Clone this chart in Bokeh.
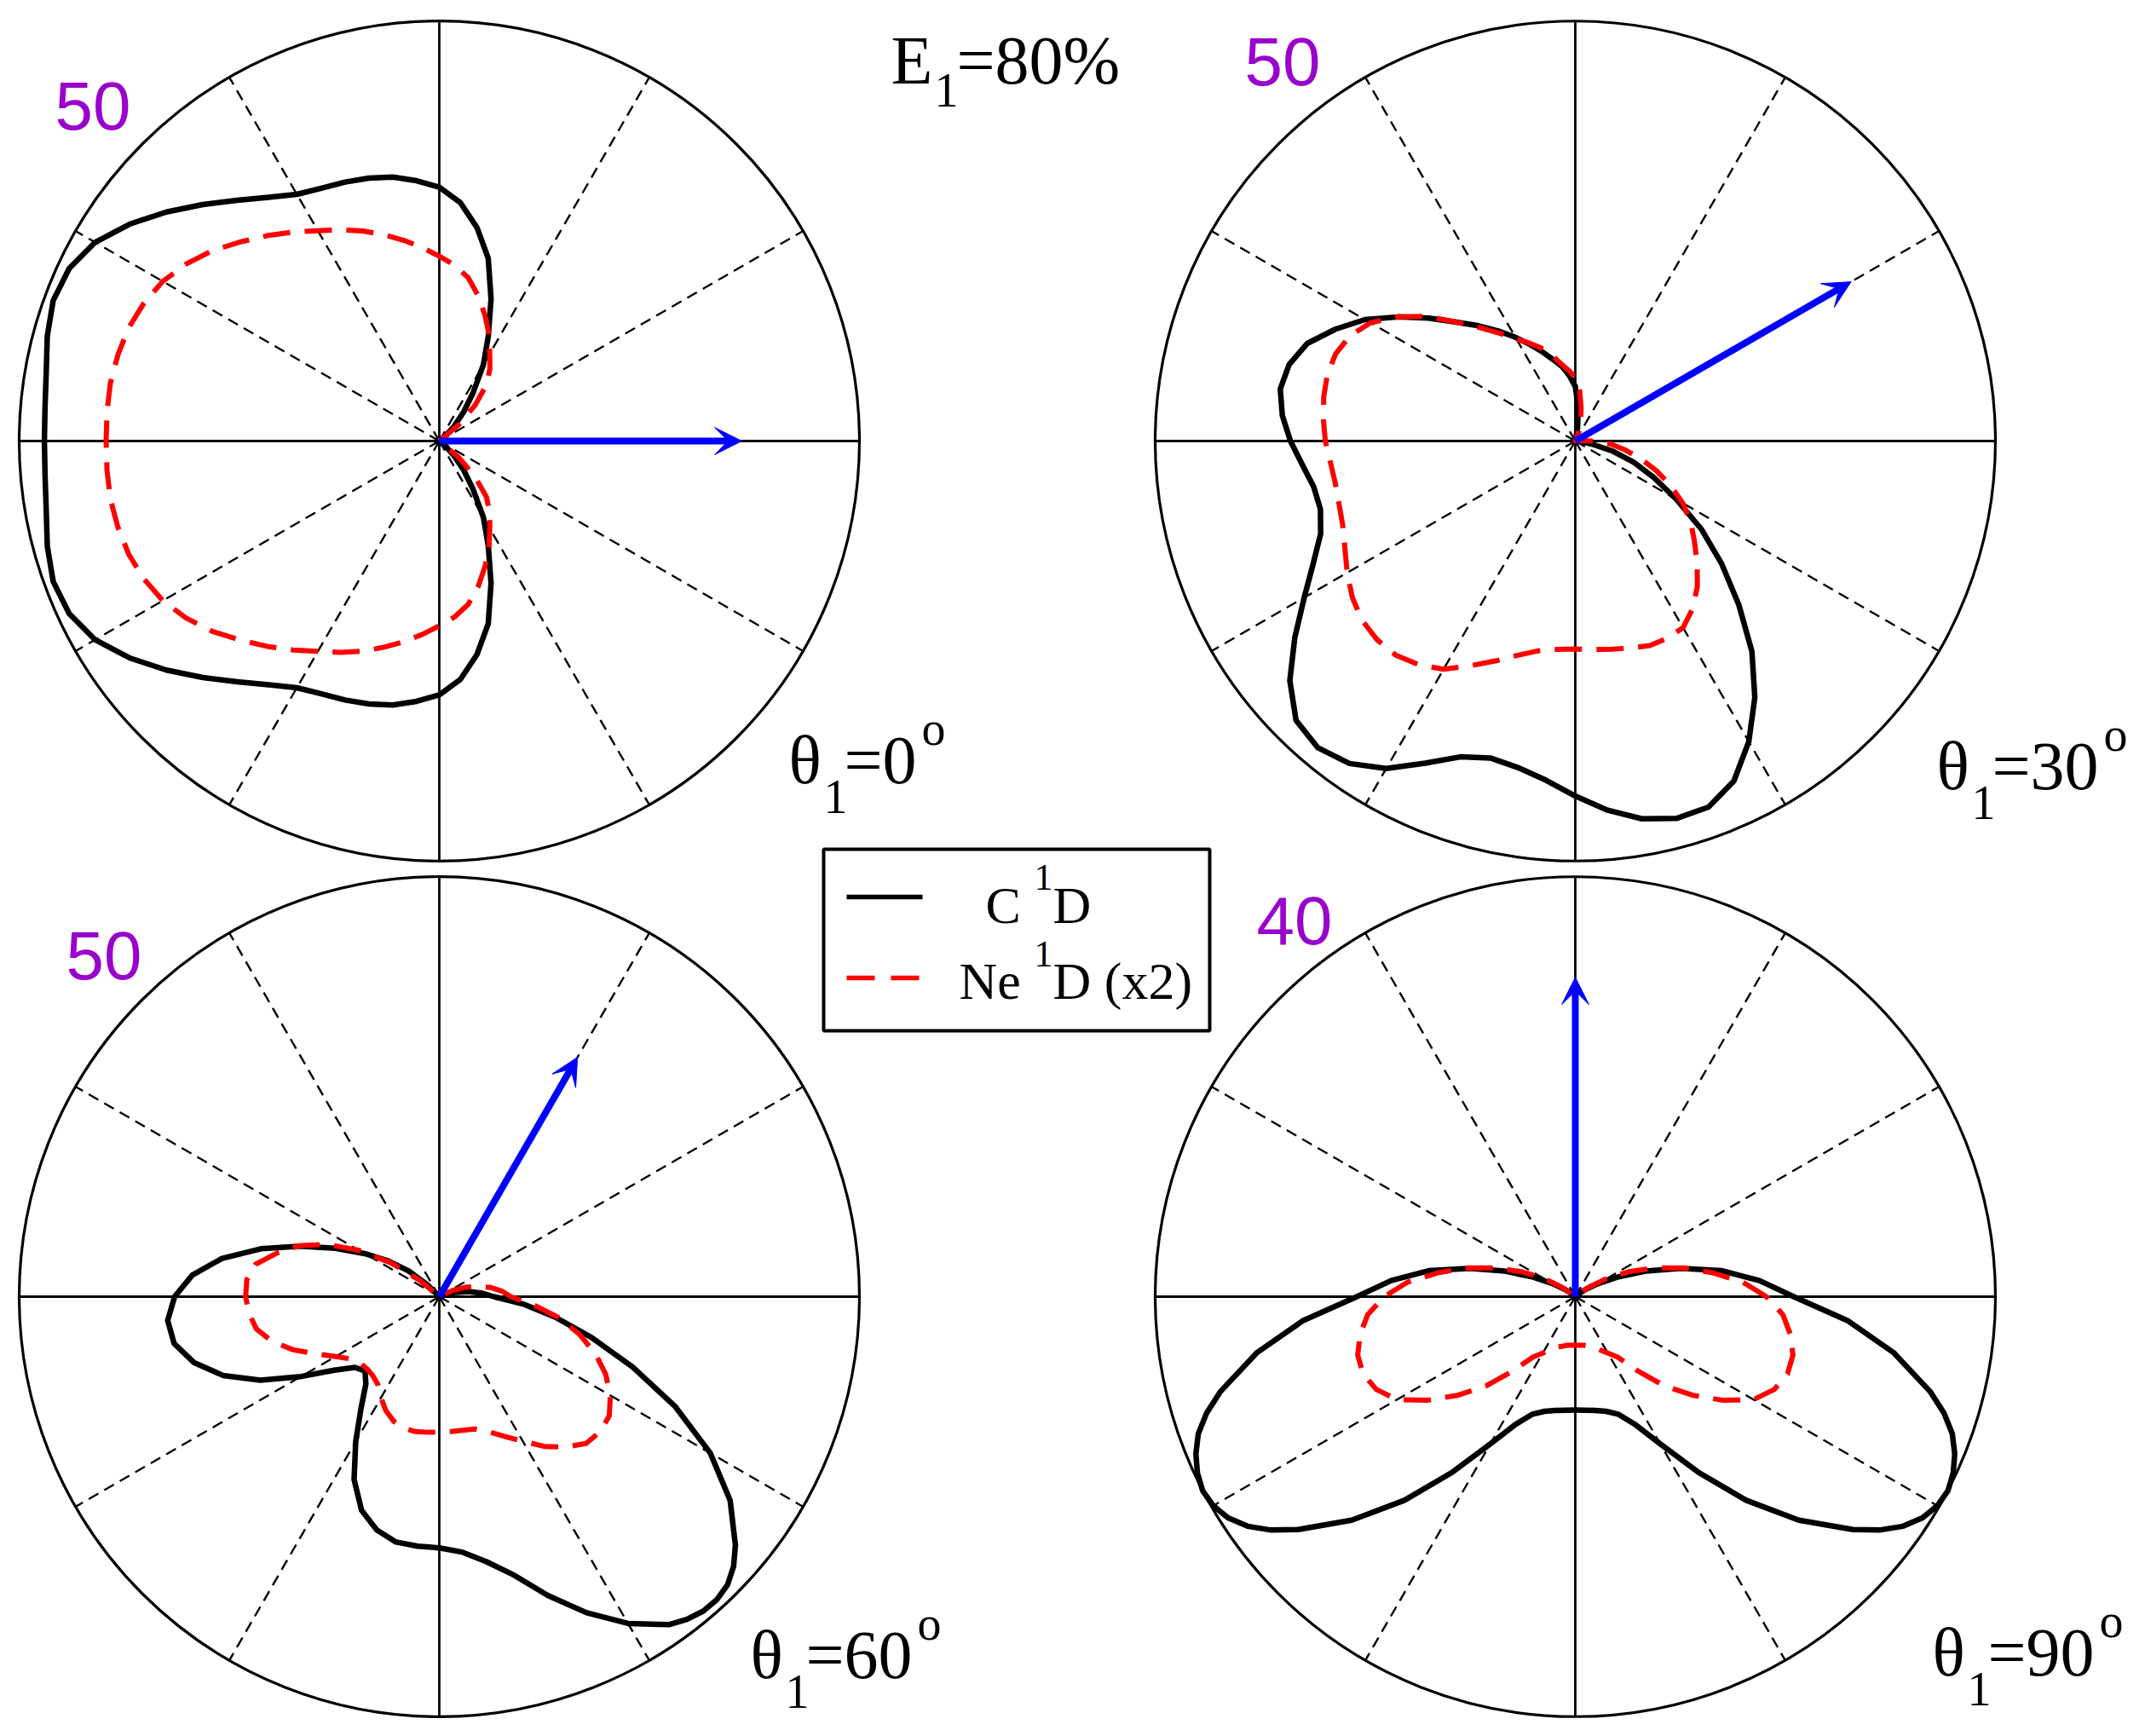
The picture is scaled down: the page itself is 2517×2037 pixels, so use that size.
import math
from bokeh.plotting import figure
from bokeh.models import Range1d, Arrow, VeeHead
from bokeh.core.properties import value
from bokeh.embed import file_html
from bokeh.resources import INLINE

# ---------------- data ----------------
ANGLES = list(range(0, 360, 5))          # polar angle (deg), 0 = right, counter-clockwise

theta1 = [0, 30, 60, 90]                 # direction of first electron (deg)
radial_max = [50, 50, 50, 40]            # value at the outer circle
arrow_len = [36.0, 37.9, 32.9, 30.4]     # length of the blue arrow, same units
panel_labels = ["θ", "θ", "θ", "θ"]
theta_values = ["0", "30", "60", "90"]
scale_labels = ["50", "50", "50", "40"]

# C 1D (black, solid), values every 5 deg
c1d_0 = [0, 0, 0, 0, 0, 0, 0, 0, 1.0, 2.5, 4.5, 7.0, 10.5, 13.8, 18.0, 22.5, 25.8, 28.5,
         30.2, 31.1, 31.9, 32.4, 32.8, 33.2, 33.9, 35.4, 37.4, 39.8, 42.4, 45.0, 47.3, 48.6,
         48.9, 48.3, 47.5, 47.1, 47.0,
         47.1, 47.5, 48.3, 48.9, 48.6, 47.3, 45.0, 42.4, 39.8, 37.4, 35.4, 33.9, 33.2, 32.8,
         32.4, 31.9, 31.1, 30.2, 28.5, 25.8, 22.5, 18.0, 13.8, 10.5, 7.0, 4.5, 2.5, 1.0,
         0, 0, 0, 0, 0, 0, 0]
ne1d_0 = [0, 0, 0, 0, 0, 0, 0, 0, 3.0, 6.0, 8.75, 10.5, 12.0, 14.0, 15.9, 17.9, 19.75, 21.0,
          22.0, 23.1, 24.25, 25.4, 26.6, 27.75, 28.9, 30.35, 31.9, 33.5, 35.25, 36.75, 38.0,
          38.8, 39.35, 39.6, 39.75, 39.7, 39.65,
          39.7, 39.75, 39.6, 39.35, 38.8, 38.0, 36.75, 35.25, 33.5, 31.9, 30.35, 28.9, 27.75,
          26.6, 25.4, 24.25, 23.1, 22.0, 21.0, 19.75, 17.9, 15.9, 14.0, 12.0, 10.5, 8.75, 6.0,
          3.0, 0, 0, 0, 0, 0, 0, 0]

c1d_30 = [0, 0, 0, 0, 0, 0, 0, 0, 0, 0, 0, 0, 0, 0, 0, 0,
          1.5, 4.0, 6.5, 7.75, 9.0, 10.0, 11.25, 12.65, 14.25, 16.0, 17.9, 20.0, 22.75, 25.75,
          28.9, 31.5, 33.95, 35.25, 35.65, 35.0, 33.9, 32.6, 31.6, 31.4, 32.25, 34.4, 37.25,
          40.75, 44.35, 47.0, 47.65, 46.85, 45.0, 42.3, 40.0, 39.05, 39.45, 40.5, 42.25, 44.1,
          45.65, 46.5, 46.35, 44.65, 41.3, 37.25, 32.7, 27.5, 22.75, 18.35, 13.9, 10.35, 7.4,
          4.5, 1.9, 0.5]
ne1d_30 = [2.0, 0.5, 0, 0, 0, 0, 0, 0, 0, 0, 0, 0, 0, 0,
           1.0, 2.5, 4.0, 6.0, 7.5, 8.4, 9.25, 10.5, 11.75, 12.85, 14.0, 15.65, 17.6, 20.0,
           23.1, 25.75, 28.15, 29.6, 30.35, 30.55, 30.4, 30.1, 29.75, 29.25, 29.0, 29.1, 29.45,
           30.25, 31.35, 32.4, 33.15, 33.4, 33.25, 32.5, 31.35, 29.5, 27.85, 26.4, 25.35, 24.9,
           24.75, 24.9, 25.15, 25.5, 25.9, 25.9, 25.65, 24.35, 22.6, 20.5, 18.5, 16.75, 14.75,
           12.5, 10.25, 8.0, 6.0, 4.25]

c1d_60 = [6.5, 5.0, 3.5, 2.0, 0.5,
          0, 0, 0, 0, 0, 0, 0, 0, 0, 0, 0, 0, 0, 0, 0, 0, 0, 0, 0, 0, 0, 0,
          2.0, 4.75, 7.4, 10.25, 13.6, 17.6, 22.0, 26.25, 29.5, 31.5, 32.45, 32.05, 30.25,
          27.4, 23.5, 19.0, 15.25, 13.1, 12.5, 13.6, 16.25, 19.9, 24.0, 27.05, 28.75, 29.65,
          29.8, 29.9, 30.5, 32.0, 34.3, 37.85, 41.5, 44.9, 47.65, 48.85, 48.5, 46.0, 42.25,
          37.25, 31.0, 24.5, 18.75, 14.0, 10.0]
ne1d_60 = [8.5, 7.5, 6.25, 4.75, 3.25, 1.75, 0.25,
           0, 0, 0, 0, 0, 0, 0, 0, 0, 0, 0, 0, 0, 0, 0, 0, 0, 0, 0, 0, 0,
           3.0, 7.0, 11.0, 14.75, 17.75, 20.0, 22.2, 23.0, 23.05, 22.75, 22.1, 20.6, 18.5,
           16.1, 14.25, 12.9, 12.3, 12.15, 12.3, 12.75, 13.9, 15.0, 15.8, 16.2, 16.3, 16.2,
           16.1, 16.1, 16.15, 16.3, 17.1, 18.35, 19.85, 21.75, 23.35, 24.7, 25.0, 24.7, 23.5,
           21.85, 19.75, 17.25, 14.5, 11.25]

c1d_90 = [20.8, 17.6, 14.2, 10.4, 7.1, 4.4, 2.5, 1.2, 0.4,
          0, 0, 0, 0, 0, 0, 0, 0, 0, 0, 0, 0, 0, 0, 0, 0, 0, 0, 0,
          0.4, 1.2, 2.5, 4.4, 7.1, 10.4, 14.2, 17.6, 20.8, 26.0, 30.8, 35.0, 38.2, 39.7, 39.8,
          38.1, 34.5, 30.1, 25.3, 20.4, 16.2, 13.4, 11.9, 11.3, 11.0, 10.85, 10.8, 10.85, 11.0,
          11.3, 11.9, 13.4, 16.2, 20.4, 25.3, 30.1, 34.5, 38.1, 39.8, 39.7, 38.2, 35.0, 30.8,
          26.0]
ne1d_90 = [18.2, 16.0, 13.2, 10.6, 8.0, 5.6, 3.6, 1.6,
           0, 0, 0, 0, 0, 0, 0, 0, 0, 0, 0, 0, 0, 0, 0, 0, 0, 0, 0, 0, 0,
           1.6, 3.6, 5.6, 8.0, 10.6, 13.2, 16.0, 18.2, 19.85, 20.8, 21.45, 21.5, 20.9, 19.6,
           17.2, 14.6, 12.0, 9.2, 7.0, 6.2, 5.6, 5.1, 4.9, 4.7, 4.65, 4.6, 4.65, 4.7, 4.9, 5.1,
           5.6, 6.2, 7.0, 9.2, 12.0, 14.6, 17.2, 19.6, 20.9, 21.5, 21.45, 20.8, 19.85]

# extra readings at lobe tips (angle deg, value)
c1d_60_tip_ang = [307.5, 312.5, 317.5]
c1d_60_tip_val = [48.4, 48.9, 47.5]
c1d_90_tip_ang = [197.5, 202.5, 207.5, 212.5, 217.5, 322.5, 327.5, 332.5, 337.5, 342.5]
c1d_90_tip_val = [36.8, 39.1, 40.0, 39.2, 36.5, 36.5, 39.2, 40.0, 39.1, 36.8]

c1d = [c1d_0, c1d_30, c1d_60, c1d_90]
ne1d = [ne1d_0, ne1d_30, ne1d_60, ne1d_90]
c1d_tips = [([], []), ([], []), (c1d_60_tip_ang, c1d_60_tip_val), (c1d_90_tip_ang, c1d_90_tip_val)]
for s in c1d + ne1d:
    assert len(s) == len(ANGLES), len(s)

# ---------------- layout (page pixels) ----------------
W, H = 2512, 2032
CENTERS = [(515, 517), (1848, 517), (515, 1521), (1848, 1521)]
RPIX = 493
SERIF = value("Liberation Serif")
SANS = value("Liberation Sans")
BASE_SHIFT = 0.4   # baseline correction, fraction of font size

p = figure(width=W, height=H, x_range=Range1d(0, W), y_range=Range1d(H, 0),
           output_backend="svg", toolbar_location=None, min_border=0,
           x_axis_type=None, y_axis_type=None)
p.grid.visible = False
p.outline_line_color = None
p.background_fill_color = "white"
p.border_fill_color = "white"


def polar_xy(k, angles, radii):
    cx, cy = CENTERS[k]
    f = RPIX / radial_max[k]
    xs = [cx + r * f * math.cos(math.radians(a)) for a, r in zip(angles, radii)]
    ys = [cy - r * f * math.sin(math.radians(a)) for a, r in zip(angles, radii)]
    return xs, ys


def closed(angles, vals, extra=([], [])):
    pts = sorted(list(zip(angles, vals)) + list(zip(extra[0], extra[1])))
    a = [q[0] for q in pts]
    v = [q[1] for q in pts]
    return a + [a[0]], v + [v[0]]


def txt(xs, ys, texts, font, size, color="black"):
    p.text(x=xs, y=[y - BASE_SHIFT * size for y in ys], text=texts, text_font=font,
           text_font_size=f"{size}px", text_color=color, text_baseline="alphabetic",
           text_align="left")


for k in range(4):
    cx, cy = CENTERS[k]
    p.circle(x=[cx], y=[cy], radius=RPIX, fill_color=None, line_color="black", line_width=3.2)
    p.multi_line(xs=[[cx - RPIX, cx + RPIX], [cx, cx]], ys=[[cy, cy], [cy - RPIX, cy + RPIX]],
                 line_color="black", line_width=2.8)
    sx, sy = [], []
    for a in [30, 60, 120, 150, 210, 240, 300, 330]:
        ex, ey = polar_xy(k, [a], [radial_max[k]])
        sx.append([cx, ex[0]])
        sy.append([cy, ey[0]])
    p.multi_line(xs=sx, ys=sy, line_color="black", line_width=2.4, line_dash="13 8")

    a, v = closed(ANGLES, c1d[k], c1d_tips[k])
    bx, by = polar_xy(k, a, v)
    p.line(bx, by, line_color="black", line_width=6.5, line_join="round")
    a, v = closed(ANGLES, ne1d[k])
    rx, ry = polar_xy(k, a, v)
    p.line(rx, ry, line_color="#ff0000", line_width=6, line_dash="32 17", line_join="round")

    ax, ay = polar_xy(k, [theta1[k]], [arrow_len[k]])
    p.add_layout(Arrow(end=VeeHead(size=32, fill_color="#0000ff", line_color="#0000ff", line_width=1),
                       x_start=cx, y_start=cy, x_end=ax[0], y_end=ay[0],
                       line_color="#0000ff", line_width=8))

# purple radial scale labels
txt([64, 1460, 77, 1474], [156, 104, 1153, 1112], scale_labels, SANS, 80, "#9900cc")

# theta labels  θ_1 = N^o
th_x = [925, 2272, 880, 2267]
th_y = [923, 930, 1973, 1970]
txt(th_x, th_y, panel_labels, SERIF, 80)
txt([x + 41 for x in th_x], [y + 34 for y in th_y], ["1"] * 4, SERIF, 56)
txt([x + 65 for x in th_x], th_y, ["=" + v for v in theta_values], SERIF, 80)
txt([x + 116 + 40 * len(v) for x, v in zip(th_x, theta_values)], [y - 46 for y in th_y],
    ["o"] * 4, SERIF, 56)

# E1 = 80%
txt([1045], [102], ["E"], SERIF, 80)
txt([1096], [128], ["1"], SERIF, 56)
txt([1122], [102], ["=80%"], SERIF, 80)

# legend
p.quad(left=[966], right=[1419], top=[996], bottom=[1209], fill_color="white",
       line_color="black", line_width=4)
p.line([993, 1082], [1052, 1052], line_color="black", line_width=5.5)
p.line([993, 1082], [1147, 1147], line_color="#ff0000", line_width=5.5, line_dash="33 19")
txt([1156, 1125], [1086, 1175], ["C", "Ne"], SERIF, 62)
txt([1213, 1213], [1047, 1137], ["1", "1"], SERIF, 44)
txt([1235, 1235], [1086, 1175], ["D", "D (x2)"], SERIF, 62)

open("out.html", "w").write(file_html(p, INLINE))
